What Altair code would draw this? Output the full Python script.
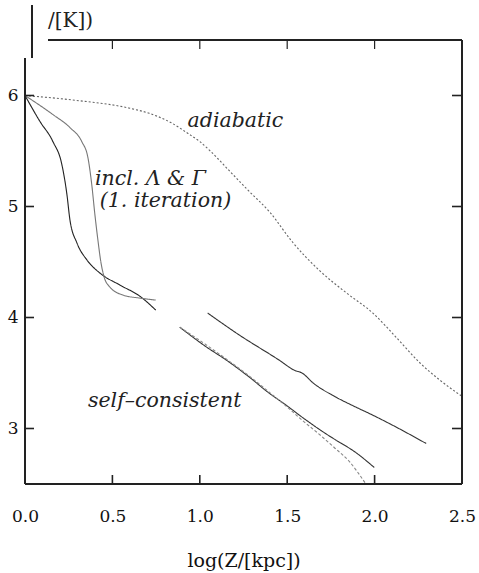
import altair as alt
import pandas as pd

# log(T) profiles versus log(Z)
adiabatic_x = [0.0, 0.27, 0.60, 0.71, 0.83, 0.94, 1.00, 1.06, 1.17, 1.28, 1.40, 1.53, 1.68, 1.84, 1.99, 2.13, 2.26, 2.37, 2.50]
adiabatic_y = [6.0, 5.96, 5.885, 5.84, 5.76, 5.65, 5.585, 5.50, 5.32, 5.14, 4.95, 4.68, 4.43, 4.22, 4.04, 3.81, 3.59, 3.44, 3.29]

selfcons_x = [0.0, 0.086, 0.16, 0.211, 0.24, 0.257, 0.297, 0.354, 0.428, 0.542, 0.656, 0.748]
selfcons_y = [6.0, 5.765, 5.584, 5.377, 5.106, 4.88, 4.672, 4.519, 4.401, 4.293, 4.193, 4.067]

iter1_x = [0.0, 0.16, 0.257, 0.325, 0.36, 0.382, 0.40, 0.417, 0.434, 0.451, 0.485, 0.559, 0.656, 0.748]
iter1_y = [6.0, 5.828, 5.711, 5.584, 5.44, 5.196, 4.925, 4.699, 4.50, 4.374, 4.275, 4.203, 4.175, 4.157]

lower_x = [0.885, 1.039, 1.153, 1.284, 1.398, 1.495, 1.587, 1.701, 1.781, 1.884, 1.998]
lower_y = [3.913, 3.733, 3.615, 3.462, 3.317, 3.209, 3.10, 2.974, 2.893, 2.793, 2.649]

upper_x = [1.045, 1.227, 1.455, 1.541, 1.587, 1.644, 1.781, 1.895, 1.969, 2.083, 2.295]
upper_y = [4.04, 3.841, 3.615, 3.525, 3.498, 3.416, 3.281, 3.191, 3.136, 3.046, 2.865]

extrap_x = [0.885, 1.039, 1.153, 1.284, 1.398, 1.495, 1.587, 1.684, 1.769, 1.855, 1.950]
extrap_y = [3.913, 3.751, 3.624, 3.471, 3.326, 3.20, 3.073, 2.947, 2.829, 2.703, 2.50]

x_ticks = [0.0, 0.5, 1.0, 1.5, 2.0, 2.5]
y_ticks = [3, 4, 5, 6]

series = [
    ("adiabatic", adiabatic_x, adiabatic_y),
    ("selfcons", selfcons_x, selfcons_y),
    ("iter1", iter1_x, iter1_y),
    ("lower", lower_x, lower_y),
    ("upper", upper_x, upper_y),
    ("extrap", extrap_x, extrap_y),
]
rows = []
for name, xs_, ys_ in series:
    for i, (xv, yv) in enumerate(zip(xs_, ys_)):
        rows.append({"s": name, "i": i, "x": xv, "y": yv})
df = pd.DataFrame(rows)

W, H = 437, 444
FONT = "DejaVu Serif"

xs = alt.Scale(domain=[0, 2.5], nice=False, zero=False)
ys = alt.Scale(domain=[2.5, 6.5], nice=False, zero=False)

names = ["adiabatic", "selfcons", "iter1", "lower", "upper", "extrap"]
colors = ["#666666", "#222222", "#777777", "#333333", "#333333", "#888888"]
dashes = [[2, 2], [1, 0], [1, 0], [1, 0], [1, 0], [3, 2]]

lines = alt.Chart(df).mark_line(strokeWidth=1.1, interpolate="monotone").encode(
    x=alt.X("x:Q", scale=xs,
            axis=alt.Axis(values=x_ticks, format=".1f", title="log(Z/[kpc])",
                          labelPadding=24, labelFlush=False,
                          titleY=82, titleBaseline="alphabetic",
                          titleFont=FONT, titleFontSize=19, titleFontWeight="normal",
                          titleColor="#111")),
    y=alt.Y("y:Q", scale=ys,
            axis=alt.Axis(values=y_ticks, format="d", title=None, labelPadding=7,
                          labelFlush=False)),
    color=alt.Color("s:N", scale=alt.Scale(domain=names, range=colors), legend=None),
    strokeDash=alt.StrokeDash("s:N", scale=alt.Scale(domain=names, range=dashes), legend=None),
    detail="s:N",
    order="i:Q",
)

# frame lines
frame_color = "#222222"
one = pd.DataFrame({"a": [0]})
left = alt.Chart(one).mark_rule(color=frame_color, strokeWidth=2).encode(
    x=alt.value(0), y=alt.value(18), y2=alt.value(H))
bottom = alt.Chart(one).mark_rule(color=frame_color, strokeWidth=2).encode(
    x=alt.value(0), x2=alt.value(W), y=alt.value(H))
right = alt.Chart(one).mark_rule(color=frame_color, strokeWidth=2).encode(
    x=alt.value(W), y=alt.value(0), y2=alt.value(H))
top = alt.Chart(one).mark_rule(color=frame_color, strokeWidth=2).encode(
    x=alt.value(23), x2=alt.value(W), y=alt.value(0))
bar = alt.Chart(one).mark_rule(color=frame_color, strokeWidth=2).encode(
    x=alt.value(7), y=alt.value(-35), y2=alt.value(18))

# inward tick marks
ytk = pd.DataFrame({"v": y_ticks})
xtk = pd.DataFrame({"v": x_ticks[1:-1]})
tick_l = alt.Chart(ytk).mark_rule(color=frame_color, strokeWidth=1.6).encode(
    y=alt.Y("v:Q", scale=ys), x=alt.value(0), x2=alt.value(9))
tick_r = alt.Chart(ytk).mark_rule(color=frame_color, strokeWidth=1.6).encode(
    y=alt.Y("v:Q", scale=ys), x=alt.value(W - 10), x2=alt.value(W))
tick_b = alt.Chart(xtk).mark_rule(color=frame_color, strokeWidth=1.6).encode(
    x=alt.X("v:Q", scale=xs), y=alt.value(H - 9), y2=alt.value(H))
tick_t = alt.Chart(xtk).mark_rule(color=frame_color, strokeWidth=1.2).encode(
    x=alt.X("v:Q", scale=xs), y=alt.value(0), y2=alt.value(9))

# curve annotations
ann = pd.DataFrame({
    "t": ["adiabatic", "incl. \u039b & \u0393", "(1. iteration)", "self\u2013consistent"],
    "x": [0.93, 0.40, 0.428, 0.36],
    "y": [5.72, 5.196, 4.997, 3.191],
})
labels = alt.Chart(ann).mark_text(font=FONT, fontStyle="italic", fontSize=20.5,
                                  align="left", baseline="alphabetic", color="#222").encode(
    x=alt.X("x:Q", scale=xs), y=alt.Y("y:Q", scale=ys), text="t:N")

ylab = alt.Chart(pd.DataFrame({"t": ["/[K])"]})).mark_text(
    font=FONT, fontSize=20, align="left", baseline="alphabetic", color="#222").encode(
    x=alt.value(23), y=alt.value(-13), text="t:N")

chart = alt.layer(
    lines, left, bottom, right, top, bar, tick_l, tick_r, tick_b, tick_t, labels, ylab
).properties(
    width=W, height=H,
    background="white",
    autosize=alt.AutoSizeParams(type="none"),
    padding={"left": 25, "top": 40, "right": 17, "bottom": 89},
).configure_view(stroke=None).configure_axis(
    domain=False, ticks=False, grid=False, tickSize=0,
    labelFont=FONT, labelFontSize=17, labelColor="#111",
)

chart.save("out.html", embed_options={"renderer": "svg", "actions": False})
